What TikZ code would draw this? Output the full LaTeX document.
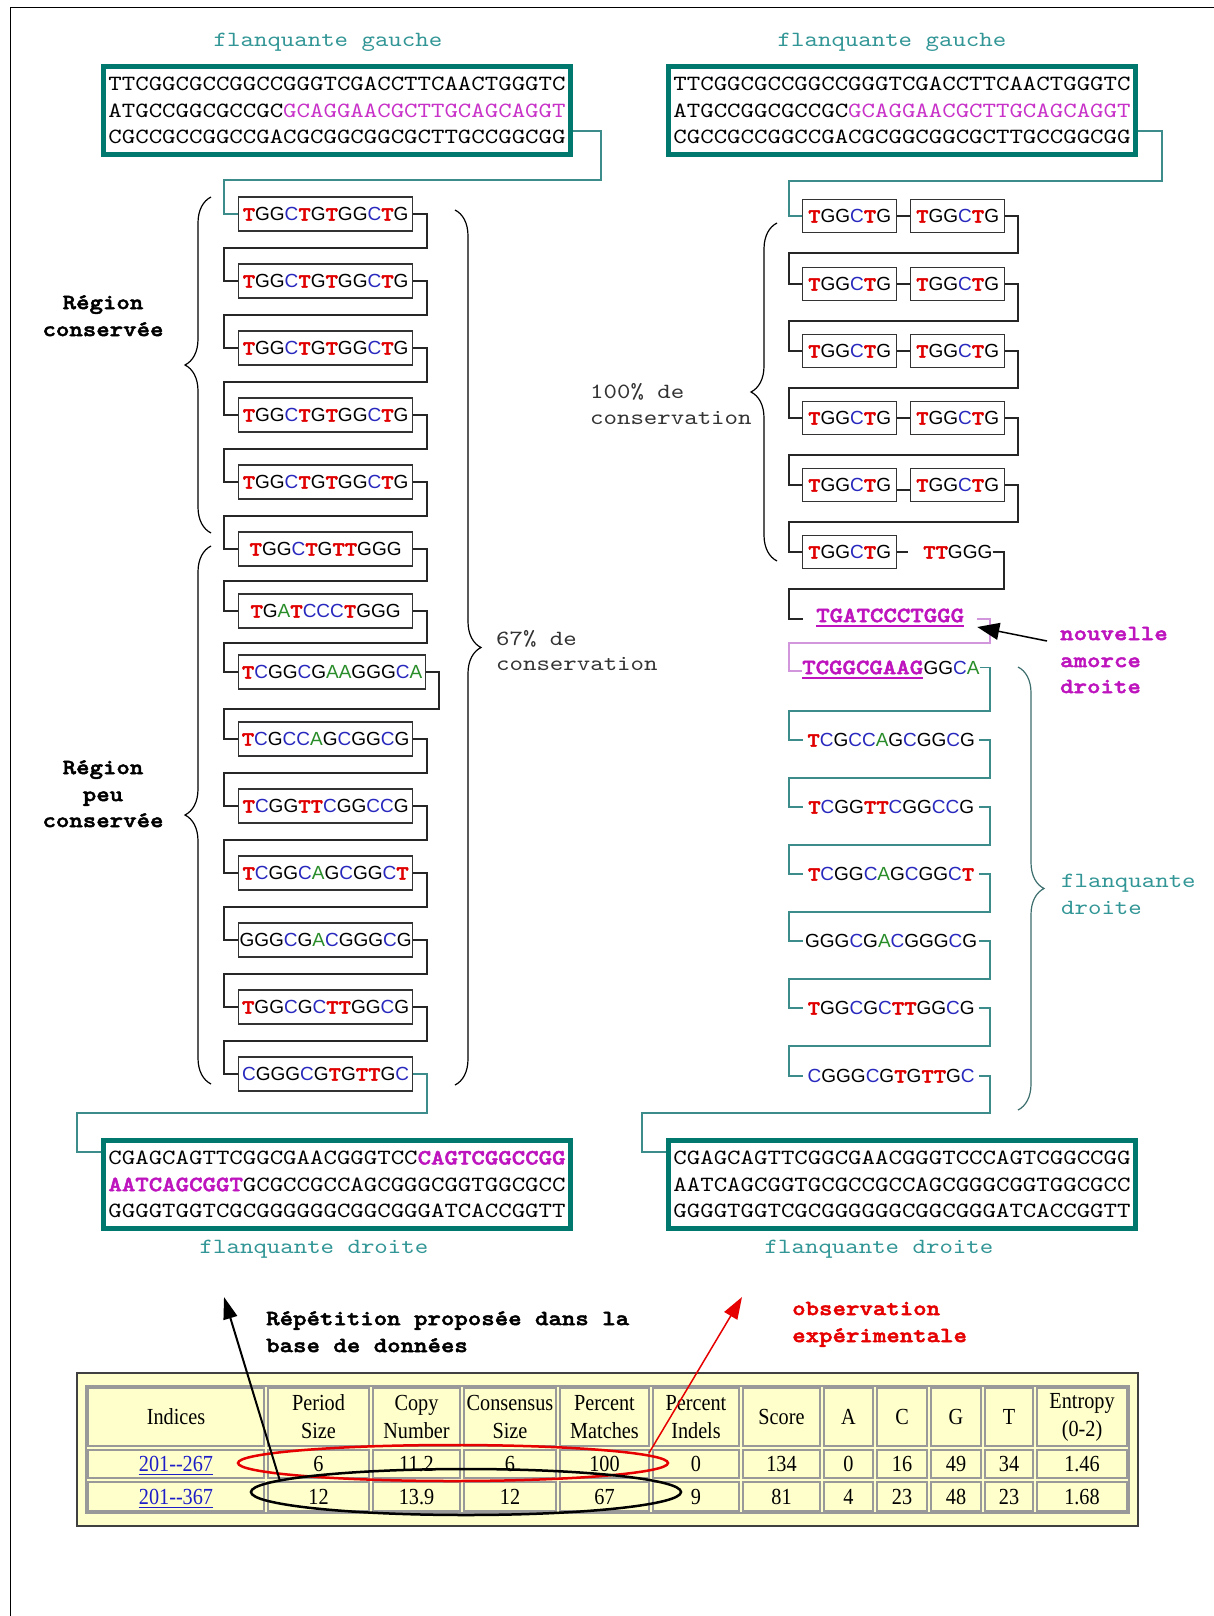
\documentclass[tikz,border=0pt]{standalone}
\usepackage{fontspec}
\setmainfont{Liberation Serif}
\setsansfont{Liberation Sans}
\newfontfamily\monof[Extension=.otf, UprightFont=lmmono10-regular, BoldFont=lmmonolt10-bold, BoldFeatures={FakeBold=2.2}, FakeStretch=1.18]{lmmono10-regular}
\newfontfamily\tabf[FakeStretch=0.88]{Liberation Serif}
\usetikzlibrary{decorations.pathreplacing,arrows.meta,calc}
\definecolor{teal1}{RGB}{0,120,110}
\definecolor{teallab}{RGB}{50,150,150}
\definecolor{tealline}{RGB}{60,140,140}
\definecolor{bracet}{RGB}{60,110,110}
\definecolor{mag}{RGB}{200,50,200}
\definecolor{magb}{RGB}{190,20,190}
\definecolor{seqR}{RGB}{225,0,0}
\definecolor{seqB}{RGB}{40,40,190}
\definecolor{seqGr}{RGB}{40,140,40}
\definecolor{tabbg}{RGB}{255,255,204}
\definecolor{linkblue}{RGB}{30,30,200}
\definecolor{pinkline}{RGB}{210,150,220}
\definecolor{obsred}{RGB}{230,0,0}
\makeatletter
\def\sq#1{\sq@aux#1\relax}
\def\sq@aux#1{\ifx#1\relax\else\sq@let#1\expandafter\sq@aux\fi}
\def\sq@let#1{\if#1A{\color{seqGr}A}\else\if#1C{\color{seqB}C}\else\if#1G{G}\else{\color{seqR}\fontsize{20}{22}\monof\bfseries T}\fi\fi\fi}
\makeatother
\newcommand\sqx[1]{\expandafter\sq\expandafter{#1}}
\tikzset{
 mono/.style={font=\fontsize{21.7}{26.7}\monof, inner sep=0pt, text height=0.62em, text depth=0pt},
 monob/.style={font=\fontsize{21.7}{26.7}\monof\bfseries, inner sep=0pt, text height=0.62em, text depth=0pt},
 flank/.style={draw=teal1, line width=5pt, minimum width=467pt, minimum height=88pt, inner sep=0pt, align=left, font=\fontsize{21.7}{26.7}\monof},
 rep/.style={draw=black!80, line width=1.2pt, minimum height=34pt, inner sep=0pt, font=\fontsize{19}{22}\sffamily, anchor=west},
 seqtxt/.style={font=\fontsize{19}{22}\sffamily, inner sep=0pt},
 conn/.style={draw=black!85, line width=1.3pt},
 tconn/.style={draw=tealline, line width=1.3pt},
 pconn/.style={draw=pinkline, line width=1.3pt},
 brc/.style={decorate, decoration={brace, amplitude=26pt}, line width=1.2pt},
 tab/.style={font=\fontsize{23}{28}\tabf, inner sep=0pt, align=center},
 cellb/.style={draw=black!40, line width=1.2pt},
}
\begin{document}
\begin{tikzpicture}[x=1pt,y=-1pt]
\useasboundingbox (0,0) rectangle (1214,1616);
\fill[white] (0,0) rectangle (1214,1616);
\draw[line width=1pt] (10,1616) -- (10,8) -- (1214,8);

% flanking boxes
\node[flank] (TL) at (337,110.5) {TTCGGCGCCGGCCGGGTCGACCTTCAACTGGGTC\\ATGCCGGCGCCGC{\color{mag}GCAGGAACGCTTGCAGCAGGT}\\CGCCGCCGGCCGACGCGGCGGCGCTTGCCGGCGG};
\node[flank] (TR) at (902,110.5) {TTCGGCGCCGGCCGGGTCGACCTTCAACTGGGTC\\ATGCCGGCGCCGC{\color{mag}GCAGGAACGCTTGCAGCAGGT}\\CGCCGCCGGCCGACGCGGCGGCGCTTGCCGGCGG};
\node[flank] (BL) at (337,1184.5) {CGAGCAGTTCGGCGAACGGGTCC{\bfseries\color{magb}CAGTCGGCCGG}\\{\bfseries\color{magb}AATCAGCGGT}GCGCCGCCAGCGGGCGGTGGCGCC\\GGGGTGGTCGCGGGGGGCGGCGGGATCACCGGTT};
\node[flank] (BR) at (902,1184.5) {CGAGCAGTTCGGCGAACGGGTCCCAGTCGGCCGG\\AATCAGCGGTGCGCCGCCAGCGGGCGGTGGCGCC\\GGGGTGGTCGCGGGGGGCGGCGGGATCACCGGTT};

\node[mono, text=teallab] (lTL) at (328,43) {flanquante gauche};
\node[mono, text=teallab] (lTR) at (892,43) {flanquante gauche};
\node[mono, text=teallab] (lBL) at (314,1250) {flanquante droite};
\node[mono, text=teallab] (lBR) at (879,1250) {flanquante droite};

% left repeats
\foreach \n/\y/\s in {1/214/TGGCTGTGGCTG, 2/281/TGGCTGTGGCTG, 3/348/TGGCTGTGGCTG, 4/415/TGGCTGTGGCTG, 5/482/TGGCTGTGGCTG, 6/549/TGGCTGTTGGG, 7/611/TGATCCCTGGG, 9/739/TCGCCAGCGGCG, 10/806/TCGGTTCGGCCG, 11/873/TCGGCAGCGGCT, 12/940/GGGCGACGGGCG, 13/1007/TGGCGCTTGGCG, 14/1074/CGGGCGTGTTGC}
  \node[rep, minimum width=174pt] (L\n) at (238,\y) {\sqx{\s}};
\node[rep, minimum width=187pt] (L8) at (238,672) {\sq{TCGGCGAAGGGCA}};

\foreach \i/\j/\ym/\yb/\xr in {1/2/248/281/427, 2/3/315/348/427, 3/4/382/415/427, 4/5/449/482/427, 5/6/516/549/427, 6/7/581/611/427, 7/8/643/672/427, 8/9/709/739/439, 9/10/773/806/427, 10/11/840/873/427, 11/12/907/940/427, 12/13/974/1007/427, 13/14/1041/1074/427}
  \draw[conn] (L\i.east) -| (\xr,\ym) -| (224,\yb) -- (L\j.west);

\draw[tconn] ([yshift=-20.5pt]TL.east) -| (601,180) -| (224,214) -- (L1.west);
\draw[tconn] (L14.east) -| (427,1113) -| (77,1152) -- ([yshift=32.5pt]BL.west);

% right repeats
\foreach \n/\y in {1/216,2/284,3/351,4/418,5/485,6/552}
  \node[rep, minimum width=94pt, minimum height=33pt] (Ra\n) at (802,\y) {\sq{TGGCTG}};
\foreach \n/\y in {1/216,2/284,3/351,4/418,5/485}
  \node[rep, minimum width=94pt, minimum height=33pt] (Rb\n) at (910,\y) {\sq{TGGCTG}};
\foreach \n in {1,2,3,4}
  \draw[conn] (Ra\n.east) -- (Rb\n.west);
\draw[conn] ([yshift=-5pt]Ra5.east) -- ([yshift=-5pt]Rb5.west);
\foreach \i/\j/\ym/\yb in {1/2/253/284, 2/3/321/351, 3/4/388/418, 4/5/455/485, 5/6/522/552}
  \draw[conn] (Rb\i.east) -| (1018,\ym) -| (789,\yb) -- (Ra\j.west);
\draw[tconn] ([yshift=-20.5pt]TR.east) -| (1162,181) -| (789,216) -- (Ra1.west);

\coordinate (r6e) at (908,552);
\draw[conn] (Ra6.east) -- (r6e);
\node[seqtxt, anchor=west] (T6) at (923,552) {\sq{TTGGG}};

\node[monob, text=magb, anchor=west, inner xsep=13pt] (P1) at (803,619) {TGATCCCTGGG};
\draw[magb, line width=2pt] ([xshift=13pt,yshift=-4pt]P1.base west) -- ([xshift=-13pt,yshift=-4pt]P1.base east);
\draw[conn] (T6.east) -| (1004,589) -| (789,619) -- (P1.west);

\node[monob, text=magb, anchor=west] (P2a) at (802,671) {TCGGCGAAG};
\node[seqtxt, anchor=base west] (P2b) at (P2a.base east) {\sq{GGCA}};
\draw[magb, line width=2pt] ([yshift=-4pt]P2a.base west) -- ([yshift=-4pt]P2a.base east);
\draw[pconn] (P1.east) -| (990,643) -| (789,671) -- (P2a.west);

\foreach \n/\y/\s in {1/740/TCGCCAGCGGCG, 2/807/TCGGTTCGGCCG, 3/874/TCGGCAGCGGCT, 4/941/GGGCGACGGGCG, 5/1008/TGGCGCTTGGCG, 6/1076/CGGGCGTGTTGC}
  \node[seqtxt, anchor=west, minimum width=176pt] (Q\n) at (803,\y) {\sqx{\s}};
\draw[tconn] (P2b.east) -| (990,711) -| (789,740) -- (Q1.west);
\foreach \i/\j/\ym/\yb in {1/2/778/807, 2/3/845/874, 3/4/912/941, 4/5/979/1008, 5/6/1046/1076}
  \draw[tconn] (Q\i.east) -| (990,\ym) -| (789,\yb) -- (Q\j.west);
\draw[tconn] (Q6.east) -| (990,1113) -| (642,1152) -- ([yshift=32.5pt]BR.west);

% braces
\draw[brc] (211,533) -- (211,197);
\draw[brc] (211,1084) -- (211,546);
\draw[brc] (455,210) -- (455,1085);
\draw[brc] (777,561) -- (777,223);
\draw[brc, draw=bracet] (1018,667) -- (1018,1110);

% labels
\node[monob] (rc1) at (103,306) {Région};
\node[monob] (rc2) at (103,333) {conservée};
\node[monob] (rp1) at (103,771) {Région};
\node[monob] (rp2) at (103,798) {peu};
\node[monob] (rp3) at (103,824) {conservée};
\node[mono, anchor=west, text=black!80] (c67a) at (496,642) {67\% de};
\node[mono, anchor=west, text=black!80] (c67b) at (496,667) {conservation};
\node[mono, anchor=west, text=black!80] (c100a) at (590,395) {100\% de};
\node[mono, anchor=west, text=black!80] (c100b) at (590,421) {conservation};
\node[mono, anchor=west, text=teallab] (fd1) at (1061,884) {flanquante};
\node[mono, anchor=west, text=teallab] (fd2) at (1061,911) {droite};
\node[monob, anchor=west, text=magb] (na1) at (1060,637) {nouvelle};
\node[monob, anchor=west, text=magb] (na2) at (1060,664) {amorce};
\node[monob, anchor=west, text=magb] (na3) at (1060,690) {droite};
\coordinate (naT) at (1047,641);
\draw[line width=1.5pt, -{Triangle[length=22pt,width=17pt]}] (naT) -- ([yshift=-8pt]P1.east);

\node[monob, anchor=west] (rep1) at (266,1322) {Répétition proposée dans la};
\node[monob, anchor=west] (rep2) at (266,1349) {base de données};
\node[monob, anchor=west, text=obsred] (ob1) at (792,1312) {observation};
\node[monob, anchor=west, text=obsred] (ob2) at (792,1339) {expérimentale};

% table
\draw[fill=tabbg, draw=black!75, line width=1.2pt] (77,1373) rectangle (1138,1526);
\draw[cellb] (86,1386) rectangle (1129,1513);
\foreach \xa/\xb in {86/266, 266/371, 371/462, 462/558, 558/651, 651/741, 741/822, 822/875, 875/929, 929/983, 983/1035, 1035/1129}
  \foreach \ya/\yb in {1386/1448, 1448/1480, 1480/1513}
    \draw[cellb] ({\xa+2},{\ya+2}) rectangle ({\xb-2},{\yb-2});

\node[tab] (h1) at (176,1417) {Indices};
\node[tab] (h2) at (318.5,1417) {Period\\Size};
\node[tab] (h3) at (416.5,1417) {Copy\\Number};
\node[tab] (h4) at (510,1417) {Consensus\\Size};
\node[tab] (h5) at (604.5,1417) {Percent\\Matches};
\node[tab] (h6) at (696,1417) {Percent\\Indels};
\node[tab] (h7) at (781.5,1417) {Score};
\node[tab] (h8) at (848.5,1417) {A};
\node[tab] (h9) at (902,1417) {C};
\node[tab] (h10) at (956,1417) {G};
\node[tab] (h11) at (1009,1417) {T};
\node[tab] (h12) at (1082,1417) {Entropy\\(0-2)};

\node[tab, text=linkblue] (ia) at (176,1464) {201-{}-267};
\node[tab, text=linkblue] (ib) at (176,1497) {201-{}-367};
\draw[linkblue, line width=1pt] ([yshift=-3pt]ia.base west) -- ([yshift=-3pt]ia.base east);
\draw[linkblue, line width=1pt] ([yshift=-3pt]ib.base west) -- ([yshift=-3pt]ib.base east);
\foreach \x/\t [count=\k] in {318.5/6, 416.5/11.2, 510/6, 604.5/100, 696/0, 781.5/134, 848.5/0, 902/16, 956/49, 1009/34, 1082/1.46}
  \node[tab] (ra\k) at (\x,1464) {\t};
\foreach \x/\t [count=\k] in {318.5/12, 416.5/13.9, 510/12, 604.5/67, 696/9, 781.5/81, 848.5/4, 902/23, 956/48, 1009/23, 1082/1.68}
  \node[tab] (rb\k) at (\x,1497) {\t};

\draw[obsred, line width=2.5pt] (453,1463) ellipse [x radius=215, y radius=18];
\draw[black, line width=2.5pt] (466,1492) ellipse [x radius=215, y radius=23];

\coordinate (ka) at (280,1481);
\coordinate (kb) at (224,1297);
\draw[line width=2pt, -{Triangle[length=22pt,width=14pt]}] (ka) -- (kb);
\coordinate (rda) at (649,1453);
\coordinate (rdb) at (742,1297);
\draw[obsred, line width=1.5pt, -{Triangle[length=22pt,width=15pt]}] (rda) -- (rdb);
\end{tikzpicture}
\end{document}
